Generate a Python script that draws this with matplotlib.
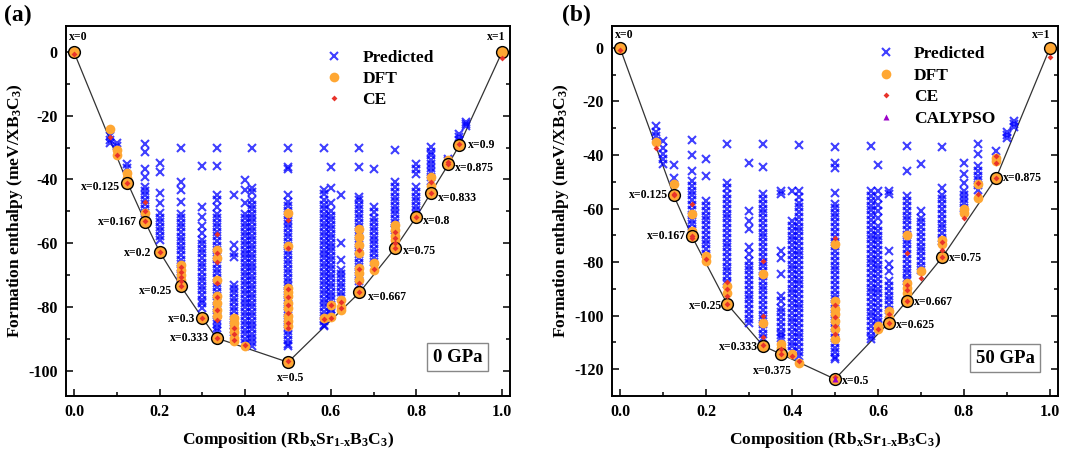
import matplotlib
matplotlib.use('Agg')
import matplotlib.pyplot as plt
from matplotlib.ticker import MultipleLocator

plt.rcParams['font.family'] = ['Liberation Serif', 'DejaVu Serif']
plt.rcParams['font.weight'] = 'bold'
plt.rcParams['axes.labelweight'] = 'bold'
plt.rcParams['mathtext.fontset'] = 'custom'
plt.rcParams['mathtext.rm'] = 'Liberation Serif:bold'
plt.rcParams['mathtext.it'] = 'Liberation Serif:bold'
plt.rcParams['mathtext.bf'] = 'Liberation Serif:bold'
plt.rcParams['mathtext.default'] = 'rm'

BLUE = '#0000ff'
ORANGE = '#ffa733'
RED = '#e8332a'
PURPLE = '#9b00c8'

# ---------------- (a) 0 GPa ----------------
comp_a = [0.083, 0.1, 0.125, 0.167, 0.2, 0.25, 0.3, 0.333, 0.375, 0.4, 0.417, 0.5,
          0.583, 0.6, 0.625, 0.667, 0.7, 0.75, 0.8, 0.833, 0.875, 0.9, 0.917]
pred_a = [
    [-26.5, -27.7, -28.6],
    [-28.5, -29.6],
    [-35.2, -36.5],
    [-28.9, -31.3, -36.6, -39.2, -42.3, -43.6, -45.0, -46.4, -47.8, -49.2, -50.6, -52.0],
    [-34.7, -37.6, -44.4, -47.5, -50.5, -52.0, -53.4, -54.8, -56.2, -57.6, -59.0],
    [-30.1, -40.8, -43.4, -47.0, -50.7, -52.2, -53.6, -55.0, -56.5, -58.0, -59.4, -60.8,
     -62.3, -63.8, -65.2, -66.6, -68.1, -69.6, -71.0, -72.4],
    [-35.8, -48.8, -51.9, -54.5, -56.8, -58.9, -60.4, -61.8, -63.2, -64.7, -66.1, -67.6,
     -69.0, -70.5, -71.9, -73.4, -74.8, -76.3, -77.7, -78.8, -80.4],
    [-30.1, -35.8, -44.9, -46.5, -48.6, -50.7, -52.1, -53.6, -55.0, -56.4, -57.9, -59.3,
     -60.8, -62.2, -63.7, -65.1, -66.6, -68.0, -69.5, -70.9, -72.4, -73.8, -75.3, -76.7,
     -78.2, -79.6, -81.1, -82.5, -84.0, -85.4, -86.6, -87.7],
    [-44.9, -60.5, -63.0, -64.2, -73.0, -74.4, -75.8, -77.2, -78.6, -80.0, -81.4, -82.8,
     -84.2, -85.6, -87.0, -88.0],
    [-40.2, -43.4, -47.5, -50.8, -52.2, -53.6, -55.0, -56.4, -57.8, -59.2, -60.6, -62.0,
     -63.4, -64.8, -66.2, -67.6, -69.0, -70.4, -71.8, -73.2, -74.6, -76.0, -77.4, -78.8,
     -80.2, -81.6, -83.0, -84.4, -85.8, -87.2, -88.6, -90.0, -91.3],
    [-30.1, -42.8, -43.9, -46.5, -47.9, -49.3, -50.7, -52.1, -53.5, -54.9, -56.3, -57.7,
     -59.1, -60.5, -61.9, -63.3, -64.7, -66.1, -67.5, -68.9, -70.3, -71.7, -73.1, -74.5,
     -75.9, -77.3, -78.7, -80.1, -81.5, -82.9, -84.3, -85.7, -87.1, -88.5, -89.9, -91.2, -92.4],
    [-30.1, -36.0, -36.6, -44.9, -47.0, -48.4, -49.8, -51.2, -52.6, -54.0, -55.4, -56.8,
     -58.2, -59.6, -61.0, -62.4, -63.8, -65.2, -66.6, -68.0, -69.4, -70.8, -72.2, -73.6,
     -75.0, -76.4, -77.8, -79.2, -80.6, -82.0, -83.4, -84.8, -86.2, -87.6, -89.0, -90.4,
     -91.6, -92.4],
    [-30.1, -43.4, -44.5, -46.5, -48.0, -49.4, -50.8, -52.2, -53.6, -55.0, -56.4, -57.8,
     -59.2, -60.6, -62.0, -63.4, -64.8, -66.2, -67.6, -69.0, -70.4, -71.8, -73.2, -74.6,
     -76.0, -77.4, -78.8, -80.2, -81.6, -83.0, -84.4, -85.6, -86.1],
    [-36.0, -42.8, -47.5, -50.0, -51.4, -52.8, -54.2, -55.6, -57.0, -58.4, -59.8, -61.2,
     -62.6, -64.0, -65.4, -66.8, -68.2, -69.6, -71.0, -72.4, -73.8, -75.2, -76.6, -78.0,
     -79.4, -80.8, -82.0, -83.0],
    [-45.0, -60.0, -65.2, -68.3, -69.7, -71.1, -72.5, -73.9, -75.3, -76.7],
    [-30.1, -36.0, -45.5, -46.5, -48.0, -49.4, -50.8, -52.2, -53.6, -55.0, -56.4, -57.8,
     -59.2, -60.6, -62.0, -63.4, -64.8, -66.2, -67.6, -69.0, -70.4, -71.8, -73.0],
    [-36.6, -48.6, -50.2, -52.0, -53.4, -54.8, -56.2, -57.6, -59.0, -60.4, -61.8, -63.2,
     -64.6, -66.0],
    [-30.8, -40.8, -42.3, -44.0, -45.4, -46.8, -48.2, -49.6, -51.0, -52.4, -53.8, -55.2, -55.8],
    [-35.0, -36.6, -38.2, -42.3, -43.9, -45.4, -46.8, -48.2, -49.6, -50.7],
    [-29.8, -31.3, -32.3, -33.9, -35.0, -36.4, -37.8, -39.2, -40.6],
    [-33.5, -34.3],
    [-25.6, -26.6, -27.6],
    [-22.0, -22.6, -23.2],
]
dft_comp_a = [0.083, 0.1, 0.125, 0.167, 0.25, 0.333, 0.375, 0.4, 0.5, 0.583, 0.6, 0.625,
              0.667, 0.7, 0.75, 0.833, 0.875]
dft_a = [
    [-24.0], [-30.6, -32.4], [-38.1, -39.5], [-50.4], [-67.0, -68.5, -70.0, -71.5],
    [-62.0, -64.7, -71.5, -76.7, -78.8, -80.9, -83.0],
    [-83.5, -85.0, -86.6, -88.0, -89.7, -90.8], [-92.4],
    [-50.4, -61.0, -74.1, -75.2, -76.7, -78.8, -80.4, -83.0, -84.6, -86.1],
    [-83.5], [-79.3, -83.3], [-77.8, -79.9, -81.0],
    [-55.5, -58.0, -60.5, -63.0, -67.8, -69.5, -71.5], [-66.3, -68.4],
    [-54.3, -55.8, -57.9, -59.0], [-39.2, -42.0], [-34.0],
]
ce_comp_a = [0.083, 0.1, 0.167, 0.25, 0.333, 0.375, 0.4, 0.5, 0.583, 0.6, 0.625, 0.667,
             0.7, 0.75, 0.833, 0.875]
ce_a = [
    [-26.8], [-32.4], [-47.0, -50.0], [-67.5, -69.0, -70.5, -72.0],
    [-57.0, -63.0, -66.0, -72.5, -77.0, -81.0, -84.0], [-86.5, -88.5, -90.5], [-92.0],
    [-52.8, -61.5, -74.5, -77.0, -79.5, -82.0, -85.0, -86.5], [-83.8], [-79.5, -83.5],
    [-78.5, -80.5], [-62.0, -68.0, -72.5], [-68.0], [-56.5, -58.5, -60.0], [-40.8], [-34.5],
]
hull_comp_a = [0, 0.125, 0.167, 0.2, 0.25, 0.3, 0.333, 0.5, 0.667, 0.75, 0.8, 0.833, 0.875, 0.9, 1]
hull_e_a = [0, -41.0, -53.5, -62.7, -73.6, -83.5, -89.8, -97.4, -75.5, -61.6, -51.7, -44.4,
            -35.2, -29.3, 0]
hull_ce_a = [-0.6, -41.0, -53.0, -62.7, -73.6, -83.5, -89.8, -97.0, -75.5, -61.6, -51.7, -44.4,
             -35.2, -29.0, -2.0]
hull_lab_a = ['x=0', 'x=0.125', 'x=0.167', 'x=0.2', 'x=0.25', 'x=0.3', 'x=0.333', 'x=0.5',
              'x=0.667', 'x=0.75', 'x=0.8', 'x=0.833', 'x=0.875', 'x=0.9', 'x=1']

# ---------------- (b) 50 GPa ----------------
comp_b = [0.083, 0.1, 0.125, 0.167, 0.2, 0.25, 0.3, 0.333, 0.375, 0.4, 0.417, 0.5,
          0.583, 0.6, 0.625, 0.667, 0.7, 0.75, 0.8, 0.833, 0.875, 0.9, 0.917]
pred_b = [
    [-29.2, -31.5, -33.0],
    [-34.8, -37.3, -39.8, -41.6, -43.5],
    [-43.9, -48.5],
    [-34.5, -40.0, -46.0, -49.7, -51.5, -53.3, -55.1, -56.9, -58.7, -60.5, -62.3, -64.1,
     -65.9, -67.7, -69.2],
    [-41.4, -47.9, -57.2, -59.0, -61.0, -62.6, -64.4, -66.2, -68.0, -69.8, -71.6, -73.4,
     -75.2, -77.0],
    [-36.0, -50.3, -52.5, -54.5, -56.5, -58.3, -60.1, -61.9, -63.7, -65.5, -67.3, -69.1,
     -70.9, -72.7, -74.5, -76.3, -78.1, -79.9, -81.7, -83.5, -85.3, -87.1, -88.2],
    [-42.9, -60.9, -64.5, -67.7, -74.5, -77.0, -79.5, -81.3, -83.1, -84.9, -86.7, -88.5,
     -90.3, -92.1, -93.9, -95.7, -97.5, -99.3, -101.1, -102.7],
    [-36.0, -44.5, -54.5, -56.4, -58.2, -60.0, -61.8, -63.6, -65.4, -67.2, -69.0, -70.8,
     -72.6, -74.4, -76.2, -78.0, -79.8, -81.6, -83.4, -85.2, -87.0, -88.8, -90.6, -92.4,
     -94.2, -96.0, -97.8, -99.6, -101.4, -103.2, -105.0, -106.8, -108.3],
    [-53.5, -54.5, -75.9, -78.4, -84.6, -92.7, -94.5, -97.0, -98.8, -100.6, -102.4, -104.2,
     -106.0, -107.4, -108.3],
    [-53.5, -64.7, -66.5, -68.3, -70.1, -71.9, -73.7, -75.5, -77.3, -79.1, -80.9, -82.7,
     -84.5, -86.3, -88.1, -89.9, -91.7, -93.5, -95.3, -97.1, -98.9, -100.7, -102.5, -104.3,
     -106.1, -107.9, -109.7, -111.5, -113.3],
    [-36.4, -53.5, -55.8, -57.8, -59.5, -61.3, -63.1, -64.9, -66.7, -68.5, -70.3, -72.1,
     -73.9, -75.7, -77.5, -79.3, -81.1, -82.9, -84.7, -86.5, -88.3, -90.1, -91.9, -93.7,
     -95.5, -97.3, -99.1, -100.9, -102.7, -104.5, -106.3, -108.1, -109.9, -111.7, -113.5,
     -115.1],
    [-36.9, -42.9, -44.7, -54.0, -58.4, -59.7, -61.5, -63.3, -65.1, -66.9, -68.7, -70.5,
     -72.3, -74.1, -75.9, -77.7, -79.5, -81.3, -83.1, -84.9, -86.7, -88.5, -90.3, -92.1,
     -93.9, -95.7, -97.5, -99.3, -101.1, -102.9, -104.7, -106.5, -108.3, -110.1, -111.9,
     -113.7, -115.3, -116.3],
    [-36.6, -53.5, -55.3, -57.1, -58.9, -60.7, -62.5, -64.3, -66.1, -67.9, -69.7, -71.5,
     -73.3, -75.1, -76.9, -78.7, -80.5, -82.3, -84.1, -85.9, -87.7, -89.5, -91.3, -93.1,
     -94.9, -96.7, -98.5, -100.3, -102.1, -103.9, -105.7, -107.5, -108.9],
    [-43.7, -53.5, -56.0, -58.5, -61.0, -63.5, -66.5, -68.3, -70.1, -71.9, -73.7, -75.5,
     -77.3, -79.1, -80.9, -82.7, -84.5, -86.3, -88.1, -89.9, -91.7, -93.5, -95.3, -97.1,
     -98.9, -100.7, -102.5, -104.0],
    [-53.5, -54.6, -75.9, -80.8, -83.4, -87.1, -88.9, -90.7, -92.5, -94.3, -96.1, -97.9,
     -99.5],
    [-36.6, -46.0, -55.3, -57.1, -59.0, -60.8, -62.6, -64.4, -66.2, -68.0, -69.8, -71.6,
     -73.4, -75.2, -77.0, -78.8, -80.6, -82.4, -84.2, -86.0, -87.2],
    [-43.4, -61.0, -63.4, -65.2, -67.0, -68.8, -70.6, -72.4, -74.2, -76.0, -77.8, -79.6,
     -81.4, -83.0],
    [-37.0, -52.2, -54.8, -56.6, -58.4, -60.2, -62.0, -63.8, -65.6, -67.4, -69.2, -71.0, -72.0],
    [-42.9, -47.1, -50.3, -53.5, -55.0, -56.5, -58.0, -59.7],
    [-36.0, -39.7, -44.1, -45.9, -47.7, -49.5, -51.3, -53.1],
    [-38.5],
    [-31.3, -32.6, -33.8],
    [-27.3, -28.5, -29.5],
]
dft_comp_b = [0.083, 0.125, 0.167, 0.2, 0.25, 0.333, 0.375, 0.4, 0.417, 0.5, 0.6, 0.625,
              0.667, 0.7, 0.75, 0.8, 0.833, 0.875]
dft_b = [
    [-35.0], [-51.0], [-62.2, -68.2], [-77.8, -79.6], [-89.0, -91.4], [-84.6, -102.6],
    [-110.7, -111.9], [-114.4], [-117.5],
    [-73.4, -94.5, -97.6, -99.5, -102.0, -105.1, -108.8], [-103.9, -105.1], [-98.3, -100.8],
    [-69.7, -87.7, -89.6, -91.4], [-83.5], [-71.6, -73.4], [-60.3, -61.6], [-51.0, -56.0],
    [-41.0, -42.2],
]
ce_comp_b = [0.083, 0.125, 0.167, 0.2, 0.25, 0.333, 0.375, 0.4, 0.417, 0.5, 0.6, 0.625,
             0.667, 0.7, 0.75, 0.8, 0.833, 0.875]
ce_b = [
    [-37.3], [-54.5], [-58.4, -71.0], [-79.0], [-87.5, -90.0, -92.5], [-79.5, -100.0, -108.0],
    [-112.5], [-115.0], [-117.0], [-71.0, -96.0, -100.5, -104.0, -107.0], [-105.0], [-99.5],
    [-76.5, -88.5, -90.5], [-86.0], [-72.5, -75.5], [-63.4], [-50.3, -54.7], [-40.5, -43.0],
]
hull_comp_b = [0, 0.125, 0.167, 0.25, 0.333, 0.375, 0.5, 0.625, 0.667, 0.75, 0.875, 1]
hull_e_b = [0, -55.1, -70.3, -95.8, -111.3, -114.4, -123.7, -102.6, -94.5, -78.1, -48.5, 0]
hull_ce_b = [-0.8, -55.1, -70.3, -95.8, -111.0, -114.4, -123.0, -102.6, -94.5, -78.1, -48.5, -3.5]
hull_lab_b = ['x=0', 'x=0.125', 'x=0.167', 'x=0.25', 'x=0.333', 'x=0.375', 'x=0.5',
              'x=0.625', 'x=0.667', 'x=0.75', 'x=0.875', 'x=1']
calypso_comp_b = [0.5]
calypso_e_b = [-123.7]

# label offsets (points) and alignment for the hull labels
lab_pos_a = [(3, 11, 'center'), (-5, -3, 'right'), (-6, 0, 'right'), (-6, -1, 'right'),
             (-6, -3, 'right'), (-5, -1, 'right'), (-5, 0, 'right'), (2, -11, 'center'),
             (6, -3, 'left'), (6, -2, 'left'), (5, -3, 'left'), (5, -3, 'left'),
             (5, -3, 'left'), (6, 0, 'left'), (-4, 11, 'center')]
lab_pos_b = [(3, 9, 'center'), (-4, 0, 'right'), (-4, 0, 'right'), (-4, -1, 'right'),
             (-4, -1, 'right'), (-6, -12, 'center'), (5, -1, 'left'), (5, -2, 'left'),
             (5, -1, 'left'), (5, -1, 'left'), (5, 0, 'left'), (-6, 9, 'center')]


def flat(comps, groups):
    xs, ys = [], []
    for c, g in zip(comps, groups):
        xs += [c] * len(g)
        ys += g
    return xs, ys


def panel(ax, comps, pred, dcomp, dft, ccomp, ce, hcomp, he, hce, labs, lpos, ylim, yticks):
    px, py = flat(comps, pred)
    dx, dy = flat(dcomp, dft)
    cx, cy = flat(ccomp, ce)
    ax.plot(hcomp, he, '-', color='#333333', lw=0.9, zorder=1)
    ax.plot(px, py, 'x', color=BLUE, ms=6, mew=1.5, alpha=0.75, zorder=2, label='Predicted')
    ax.plot(dx, dy, 'o', color=ORANGE, ms=7, mec='none', zorder=3, label='DFT')
    ax.plot(hcomp, he, 'o', mfc=ORANGE, mec='black', ms=8.5, mew=1.0, zorder=4)
    ax.plot(cx + hcomp, cy + hce, 'D', color=RED, ms=3, mec='none', zorder=5, label='CE')
    for c, e, t, (ox, oy, ha) in zip(hcomp, he, labs, lpos):
        ax.annotate(t, (c, e), xytext=(ox, oy), textcoords='offset points',
                    ha=ha, va='center', fontsize=8.5, fontweight='bold', zorder=6)
    ax.set_xlim(-0.0187, 1.0187)
    ax.set_ylim(*ylim)
    ax.xaxis.set_minor_locator(MultipleLocator(0.1))
    ax.yaxis.set_minor_locator(MultipleLocator(10))
    ax.tick_params(which='both', direction='in', right=True, top=False, width=1.1)
    ax.tick_params(which='major', length=5, labelsize=11.5, pad=6)
    ax.tick_params(which='minor', length=3)
    ax.set_xticks([0, 0.2, 0.4, 0.6, 0.8, 1.0])
    ax.set_xticklabels(['0.0', '0.2', '0.4', '0.6', '0.8', '1.0'])
    ax.set_yticks(yticks)
    ax.set_yticklabels([str(v) for v in yticks])
    for s in ax.spines.values():
        s.set_linewidth(1.4)
    ax.set_xlabel(r'Composition (Rb$_{x}$Sr$_{1\text{-}x}$B$_{3}$C$_{3}$)', fontsize=12.5, labelpad=7)
    ax.set_ylabel(r'Formation enthalpy (meV/XB$_{3}$C$_{3}$)', fontsize=12.5, labelpad=2)


fig = plt.figure(figsize=(10.78, 4.55), dpi=100)
ax1 = fig.add_axes([0.0612, 0.1297, 0.4119, 0.8132])
ax2 = fig.add_axes([0.5677, 0.1297, 0.4137, 0.8132])

panel(ax1, comp_a, pred_a, dft_comp_a, dft_a, ce_comp_a, ce_a, hull_comp_a, hull_e_a,
      hull_ce_a, hull_lab_a, lab_pos_a, (-108, 8.2), [0, -20, -40, -60, -80, -100])
panel(ax2, comp_b, pred_b, dft_comp_b, dft_b, ce_comp_b, ce_b, hull_comp_b, hull_e_b,
      hull_ce_b, hull_lab_b, lab_pos_b, (-130, 8.2), [0, -20, -40, -60, -80, -100, -120])
ax2.plot(calypso_comp_b, calypso_e_b, '^', color=PURPLE, ms=4, mec='none', zorder=6,
         label='CALYPSO')

ax1.legend(loc='upper left', bbox_to_anchor=(0.55, 0.955), frameon=False, fontsize=12.5,
           handletextpad=0.6, labelspacing=0.3, borderaxespad=0)
ax2.legend(loc='upper left', bbox_to_anchor=(0.56, 0.965), frameon=False, fontsize=12.5,
           handletextpad=0.6, labelspacing=0.32, borderaxespad=0)

box = dict(boxstyle='square,pad=0.3', fc='white', ec='#888888', lw=1)
ax1.text(0.882, 0.105, '0 GPa', transform=ax1.transAxes, ha='center', va='center',
         fontsize=13.5, fontweight='bold', bbox=box)
ax2.text(0.882, 0.102, '50 GPa', transform=ax2.transAxes, ha='center', va='center',
         fontsize=13.5, fontweight='bold', bbox=box)

fig.text(0.004, 0.965, '(a)', fontsize=17, fontweight='bold', va='center')
fig.text(0.521, 0.965, '(b)', fontsize=17, fontweight='bold', va='center')

fig.savefig('out.png', dpi=100)
